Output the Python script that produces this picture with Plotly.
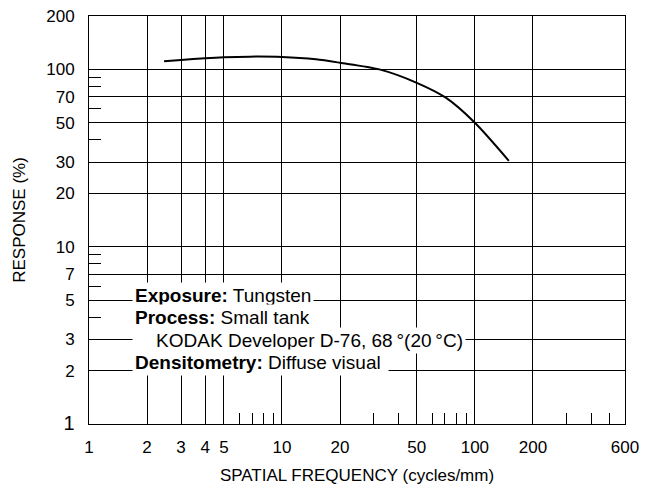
import math
import plotly.graph_objects as go

# ---- data ----
FREQ = [2.45, 3, 4, 5, 6.8, 10, 15, 20, 32, 50, 71, 100, 150]          # cycles/mm
RESPONSE = [111, 113, 115.5, 117, 118, 117.5, 114, 109, 100, 84, 69, 50, 30.5]  # %

X_TICKS = [1, 2, 3, 4, 5, 10, 20, 50, 100, 200, 600]
X_SHORT = [6, 7, 8, 9, 30, 40, 60, 70, 80, 90, 300, 400, 500]
Y_TICKS = [1, 2, 3, 5, 7, 10, 20, 30, 50, 70, 100, 200]
Y_SHORT = [4, 6, 8, 9, 40, 60, 80, 90]

NOTES = [
    "<b>Exposure:</b> Tungsten",
    "<b>Process:</b> Small tank",
    "\u00a0\u00a0\u00a0\u00a0KODAK Developer D-76, 68\u2009°(20\u2009°C)",
    "<b>Densitometry:</b> Diffuse visual\u00a0",
]

FONT = "Liberation Sans, Arial, Helvetica, sans-serif"

fig = go.Figure()
fig.add_trace(go.Scatter(
    x=FREQ, y=RESPONSE, mode="lines",
    line=dict(color="black", width=2, shape="spline", smoothing=0.8),
    hoverinfo="skip", showlegend=False,
))

y_text = [("<span style='font-size:20px'>1</span>" if v == 1 else str(v)) for v in Y_TICKS]

# the page body adds an 8px offset, so the figure is 8px smaller than the window
fig.update_layout(
    width=643, height=481,
    margin=dict(l=81, r=26, t=8, b=65),
    paper_bgcolor="white", plot_bgcolor="white",
    font=dict(family=FONT, size=17, color="black"),
    showlegend=False,
    xaxis=dict(
        type="log", range=[0, math.log10(600)], automargin=False,
        tickmode="array", tickvals=X_TICKS, ticktext=[str(v) for v in X_TICKS],
        ticks="", showgrid=True, gridcolor="black", gridwidth=1,
        showline=True, linecolor="black", linewidth=1, mirror=True,
        ticklabelstandoff=8, ticklabeloverflow="allow",
        minor=dict(tickmode="array", tickvals=X_SHORT, ticks="inside",
                   ticklen=11, tickcolor="black", tickwidth=1, showgrid=False),
        title=dict(text="SPATIAL FREQUENCY (cycles/mm)", font=dict(size=17), standoff=12),
        zeroline=False,
    ),
    yaxis=dict(
        type="log", range=[0, math.log10(200)], automargin=False,
        tickmode="array", tickvals=Y_TICKS, ticktext=y_text,
        ticks="", showgrid=True, gridcolor="black", gridwidth=1,
        showline=True, linecolor="black", linewidth=1, mirror=True,
        ticklabelstandoff=10, ticklabeloverflow="allow",
        minor=dict(tickmode="array", tickvals=Y_SHORT, ticks="inside",
                   ticklen=12, tickcolor="black", tickwidth=1, showgrid=False),
        title=dict(text="RESPONSE (%)", font=dict(size=17), standoff=16),
        zeroline=False,
    ),
)

# text block, each line on a white band that interrupts the grid
row_shift = [128.2, 106.5, 83.2, 61.5]
for txt, ys in zip(NOTES, row_shift):
    fig.add_annotation(
        text=txt, xref="paper", yref="paper", x=0, y=0,
        xanchor="left", yanchor="middle", xshift=43, yshift=ys,
        showarrow=False, bgcolor="white", borderpad=2,
        font=dict(family=FONT, size=19, color="black"), align="left",
    )

fig.write_html("out.html")
